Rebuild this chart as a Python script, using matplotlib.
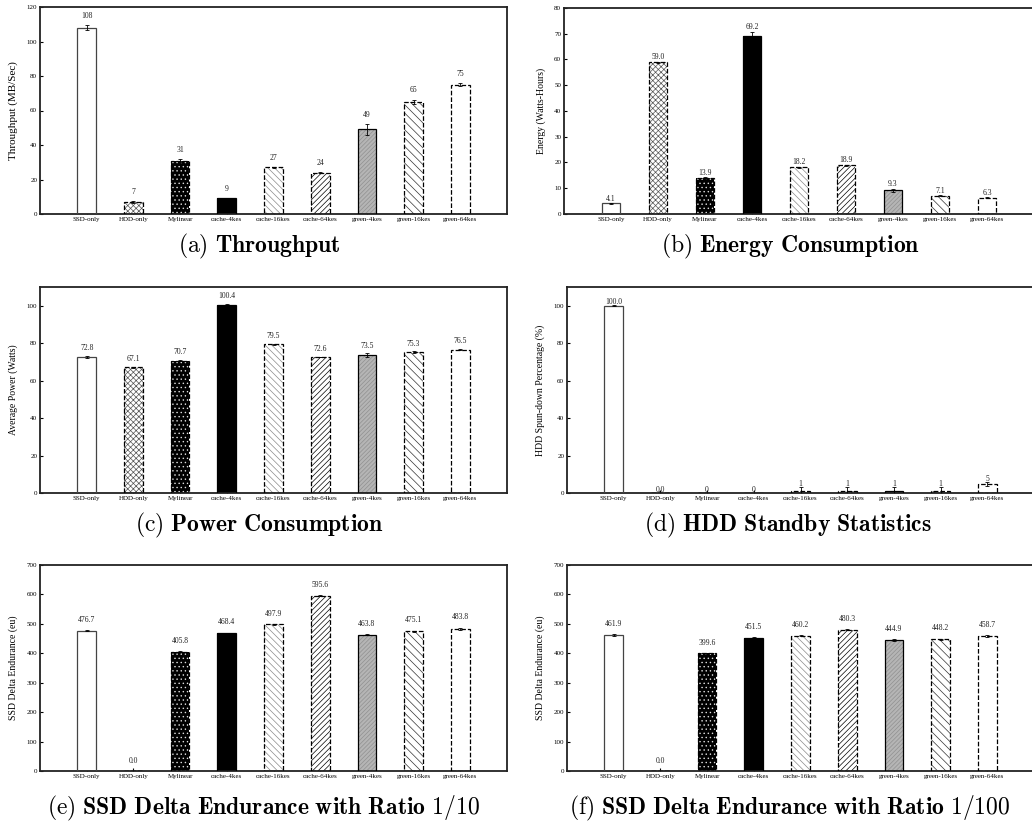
"""Six-panel bar grid: throughput, energy, power, HDD standby, SSD endurance (two ratios)."""
import matplotlib

matplotlib.use("Agg")
import matplotlib.pyplot as plt
import numpy as np

plt.rcParams["font.family"] = ["Liberation Serif", "DejaVu Serif"]
plt.rcParams["mathtext.fontset"] = "cm"
plt.rcParams["hatch.linewidth"] = 0.5

SCHEMES = ["SSD-only", "HDD-only", "Mylinear", "cache-4kes", "cache-16kes",
           "cache-64kes", "green-4kes", "green-16kes", "green-64kes"]

throughput = [108, 7, 31, 9, 27, 24, 49, 65, 75]
throughput_err = [1.5, 0.5, 0.8, 0.3, 0.3, 0.3, 3.0, 1.2, 0.8]

energy = [4.1, 59.0, 13.9, 69.2, 18.2, 18.9, 9.3, 7.1, 6.3]
energy_err = [0.1, 0.2, 0.3, 1.5, 0.2, 0.2, 0.6, 0.2, 0.2]

power = [72.8, 67.1, 70.7, 100.4, 79.5, 72.6, 73.5, 75.3, 76.5]
power_err = [0.5, 0.2, 0.2, 0.4, 0.3, 0.2, 1.0, 0.3, 0.3]

standby = [100.0, 0.0, 0, 0, 1, 1, 1, 1, 5]
standby_err = [0.3, 0.0, 0.0, 0.0, 2.0, 2.0, 2.0, 2.0, 1.0]
standby_labels = ["100.0", "0.0", "0", "0", "1", "1", "1", "1", "5"]

endur_10 = [476.7, 0.0, 405.8, 468.4, 497.9, 595.6, 463.8, 475.1, 483.8]
endur_10_err = [1, 0, 2, 2, 2, 1, 1, 2, 3]

endur_100 = [461.9, 0.0, 399.6, 451.5, 460.2, 480.3, 444.9, 448.2, 458.7]
endur_100_err = [2, 0, 2, 3, 2, 1, 2, 2, 2]

# per-scheme look: face, hatch, hatch colour, outline style
STYLES = [
    ("white", None, "white", "-"),
    ("white", "xxxxxx", "#555555", "--"),
    ("black", "....", "#dddddd", "--"),
    ("black", None, "black", "-"),
    ("white", "\\\\\\\\\\", "#8a8a8a", "--"),
    ("white", "//////", "black", "--"),
    ("#b5b5b5", "////////", "#909090", "-"),
    ("white", "\\\\\\\\", "#333333", "--"),
    ("white", None, "white", "--"),
]

W, H = 1032, 827


def box(l, r, t, b):
    return [l / W, 1 - b / H, (r - l) / W, (b - t) / H]


def panel(ax, vals, errs, labels, ymax, yticks, ylabel, off, ylfs=7):
    x = np.arange(len(SCHEMES))
    for i, (v, e) in enumerate(zip(vals, errs)):
        face, hatch, hc, ls = STYLES[i]
        ax.bar(x[i], v, 0.4, color=face, edgecolor=hc, hatch=hatch, lw=0, zorder=2)
        ax.bar(x[i], v, 0.4, fill=False, edgecolor="#444444" if i == 0 else "black",
               lw=0.9, linestyle=ls, zorder=3)
        if e > 0:
            ax.errorbar(x[i], v, yerr=e, fmt="none", ecolor="black", elinewidth=0.6,
                        capsize=1.5, capthick=0.6, zorder=4)
        ax.text(x[i], v + e + off * ymax, labels[i], ha="center", va="center",
                fontsize=5.5, color="#222222")
    ax.set_xlim(-1, 9)
    ax.set_ylim(0, ymax)
    ax.set_yticks(yticks)
    ax.set_xticks(x)
    ax.set_xticklabels(SCHEMES)
    ax.tick_params(axis="both", labelsize=5, direction="in", length=2, pad=2)
    ax.set_ylabel(ylabel, fontsize=ylfs, labelpad=6)
    for s in ax.spines.values():
        s.set_linewidth(1.3)
        s.set_color("#222222")


fig = plt.figure(figsize=(W / 100, H / 100), dpi=100)

ax = fig.add_axes(box(40, 507, 7, 214))
panel(ax, throughput, throughput_err, [f"{v:.0f}" for v in throughput], 120,
      range(0, 121, 20), "Throughput (MB/Sec)", 0.045, ylfs=8)
ax = fig.add_axes(box(564, 1034, 8, 214))
panel(ax, energy, energy_err, [f"{v:.1f}" for v in energy], 80,
      range(0, 81, 10), "Energy (Watts-Hours)", 0.022)
ax = fig.add_axes(box(40, 507, 287, 493))
panel(ax, power, power_err, [f"{v:.1f}" for v in power], 110,
      range(0, 101, 20), "Average Power (Watts)", 0.038)
ax = fig.add_axes(box(567, 1034, 287, 493))
panel(ax, standby, standby_err, standby_labels, 110,
      range(0, 101, 20), "HDD Spun-down Percentage (%)", 0.015)
ax = fig.add_axes(box(40, 507, 565, 771))
panel(ax, endur_10, endur_10_err, [f"{v:.1f}" for v in endur_10], 700,
      range(0, 701, 100), "SSD Delta Endurance (eu)", 0.05)
ax = fig.add_axes(box(567, 1034, 565, 771))
panel(ax, endur_100, endur_100_err, [f"{v:.1f}" for v in endur_100], 700,
      range(0, 701, 100), "SSD Delta Endurance (eu)", 0.05)

captions = [
    (259, 246, r"$\mathrm{(a)}\ \mathbf{Throughput}$"),
    (790, 246, r"$\mathrm{(b)}\ \mathbf{Energy\ Consumption}$"),
    (259, 525, r"$\mathrm{(c)}\ \mathbf{Power\ Consumption}$"),
    (788, 525, r"$\mathrm{(d)}\ \mathbf{HDD\ Standby\ Statistics}$"),
    (263, 808, r"$\mathrm{(e)}\ \mathbf{SSD\ Delta\ Endurance\ with\ Ratio}\ 1/10$"),
    (790, 808, r"$\mathrm{(f)}\ \mathbf{SSD\ Delta\ Endurance\ with\ Ratio}\ 1/100$"),
]
for cx, cy, txt in captions:
    fig.text(cx / W, 1 - cy / H, txt, ha="center", va="center", fontsize=17)

fig.savefig("out.png", dpi=100)
